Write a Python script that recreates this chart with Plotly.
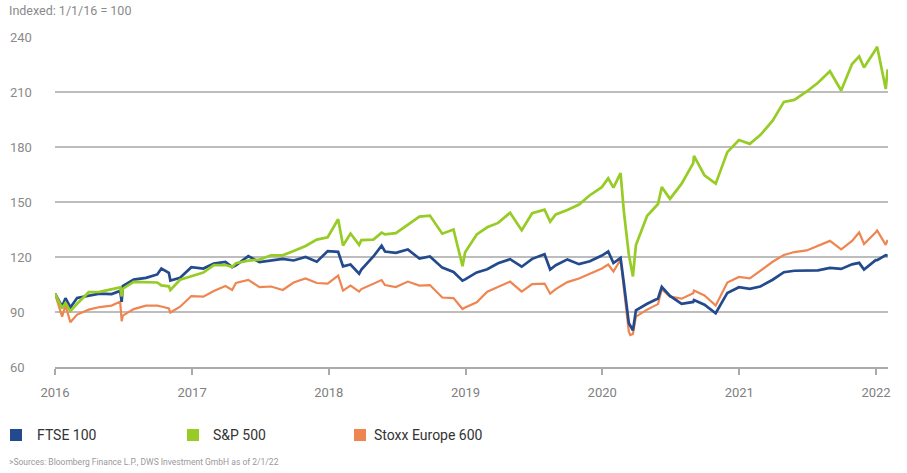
import plotly.graph_objects as go

dates = [
    "2016-01-01", "2016-01-20", "2016-01-29", "2016-02-11", "2016-02-29", "2016-03-31", "2016-04-29",
    "2016-05-31", "2016-06-23", "2016-06-27", "2016-06-30", "2016-07-29", "2016-08-31", "2016-09-30",
    "2016-10-11", "2016-10-31", "2016-11-04", "2016-11-30", "2016-12-30",
    "2017-01-31", "2017-02-28", "2017-03-31", "2017-04-18", "2017-04-28", "2017-05-31", "2017-06-30",
    "2017-07-31", "2017-08-31", "2017-09-29", "2017-10-31", "2017-11-30", "2017-12-29",
    "2018-01-26", "2018-02-08", "2018-02-28", "2018-03-23", "2018-03-29", "2018-04-30", "2018-05-22",
    "2018-05-31", "2018-06-29", "2018-07-31", "2018-08-31", "2018-09-28", "2018-10-31", "2018-11-30",
    "2018-12-24", "2018-12-31",
    "2019-01-31", "2019-02-28", "2019-03-29", "2019-04-30", "2019-05-31", "2019-06-28", "2019-07-31",
    "2019-08-15", "2019-08-30", "2019-09-30", "2019-10-31", "2019-11-29", "2019-12-31",
    "2020-01-17", "2020-01-31", "2020-02-19", "2020-02-28", "2020-03-12", "2020-03-16", "2020-03-23",
    "2020-03-31", "2020-04-30", "2020-05-29", "2020-06-08", "2020-06-30", "2020-07-31", "2020-08-31",
    "2020-09-02", "2020-09-30", "2020-10-30", "2020-11-30", "2020-12-31",
    "2021-01-29", "2021-02-26", "2021-03-31", "2021-04-30", "2021-05-28", "2021-06-30", "2021-07-30",
    "2021-08-31", "2021-09-30", "2021-10-29", "2021-11-17", "2021-11-30", "2021-12-31",
    "2022-01-04", "2022-01-27", "2022-02-01",
]

sp500 = [
    100, 92, 94.9, 90.5, 94.5, 100.8, 101, 102.6, 103.4, 98.5, 102.7, 106.4, 106.2, 106.1, 104.5, 104, 102, 107.6, 109.5,
    111.5, 115.6, 115.6, 114.6, 116.6, 118, 118.6, 120.9, 120.9, 123.3, 126, 129.5, 130.8,
    140.6, 126.3, 132.8, 126.6, 129.2, 129.5, 133.3, 132.3, 133, 137.8, 142, 142.6, 132.7, 135, 115, 122.6,
    132.3, 136.2, 138.6, 144.1, 134.6, 143.9, 145.8, 139.3, 143.2, 145.6, 148.6, 153.7, 158.1,
    162.9, 157.8, 165.7, 144.5, 121.4, 116.7, 109.4, 126.5, 142.5, 148.9, 158.1, 151.7, 160, 171.2, 175.2, 164.5, 160, 177.2, 183.8,
    181.7, 186.5, 194.4, 204.6, 205.7, 210.3, 215, 221.3, 210.8, 225.3, 229.4, 223.4, 233.2,
    234.7, 211.7, 222.4,
]

ftse100 = [
    100, 93, 97.5, 92.5, 97.7, 98.9, 100, 99.8, 101.5, 95.5, 104.2, 107.7, 108.6, 110.5, 113.7, 111.4, 107.2, 108.7, 114.4,
    113.7, 116.4, 117.3, 114.5, 115.4, 120.5, 117.2, 118.1, 119, 118.1, 120, 117.4, 123.2,
    122.8, 114.9, 115.9, 110.9, 113.1, 120.3, 126.2, 123, 122.3, 124.1, 119.1, 120.3, 114.2, 111.8, 107.1, 107.8,
    111.6, 113.3, 116.6, 118.8, 114.7, 119, 121.5, 113.2, 115.5, 118.7, 116.1, 117.7, 120.8,
    123, 116.7, 119.5, 105.4, 83.9, 82.5, 80, 90.9, 94.5, 97.4, 103.7, 98.8, 94.5, 95.5, 96.5, 94, 89.3, 100.4, 103.5,
    102.6, 103.9, 107.6, 111.7, 112.5, 112.7, 112.7, 114.1, 113.5, 116, 116.8, 113.1, 118.3,
    118.3, 121, 120.7,
]

stoxx600 = [
    100, 87.5, 93.6, 84.4, 88.6, 91.3, 92.7, 93.5, 95.7, 85, 88, 91.6, 93.5, 93.5, 93, 91.9, 89.7, 92.9, 98.7,
    98.4, 101.4, 104.2, 102, 105.8, 107.5, 103.6, 103.9, 102, 106.1, 108.3, 105.8, 105.5,
    109.9, 101.7, 104.4, 101.1, 102.5, 105.2, 107.4, 104.7, 103.6, 106.6, 104.4, 104.7, 97.9, 97.6, 91.6, 92.4,
    95.3, 101.1, 103.6, 106.6, 101.1, 105.2, 105.5, 100, 102.5, 106.3, 108.3, 111, 113.7,
    115.9, 112.1, 118.6, 102.8, 79.3, 77.4, 78, 87.5, 91.3, 94.3, 102.5, 98.4, 97.3, 100.3, 101.7, 99, 93.5, 106.1, 109.1,
    108.3, 112.4, 117.4, 121.1, 122.7, 123.6, 126.3, 128.8, 124.1, 128.8, 133.4, 127.1, 133.4,
    134.5, 126.6, 129.3,
]

year_ticks = ["2016-01-01", "2017-01-01", "2018-01-01", "2019-01-01", "2020-01-01", "2021-01-01", "2022-01-01"]
year_labels = ["2016", "2017", "2018", "2019", "2020", "2021", "2022"]
y_ticks = [60, 90, 120, 150, 180, 210, 240]

series_names = ["FTSE 100", "S&P 500", "Stoxx Europe 600"]
colors = {"FTSE 100": "#234a8c", "S&P 500": "#97cb26", "Stoxx Europe 600": "#ef8550"}

FONT = "Roboto, 'Open Sans', Arial, sans-serif"

W, H = 907, 473
ML, MR, MT, MB = 55, 19, 37, 106
PW = W - ML - MR
PH = H - MT - MB


def px_to_paper_x(px):
    return (px - ML) / PW


def px_to_paper_y(py):
    return (H - MB - py) / PH


fig = go.Figure()

fig.add_trace(go.Scatter(x=dates, y=stoxx600, mode="lines", name="Stoxx Europe 600",
                         line=dict(color=colors["Stoxx Europe 600"], width=2.2), showlegend=False))
fig.add_trace(go.Scatter(x=dates, y=ftse100, mode="lines", name="FTSE 100",
                         line=dict(color=colors["FTSE 100"], width=2.7), showlegend=False))
fig.add_trace(go.Scatter(x=dates, y=sp500, mode="lines", name="S&P 500",
                         line=dict(color=colors["S&P 500"], width=2.7), showlegend=False))

annotations = []
shapes = []

# custom legend: square swatch + label
swatch_left_px = [10, 187, 354]
label_left_px = [35, 211, 372]
for name, sx, lx in zip(series_names, swatch_left_px, label_left_px):
    shapes.append(dict(type="rect", xref="paper", yref="paper",
                       x0=px_to_paper_x(sx), x1=px_to_paper_x(sx + 12),
                       y0=px_to_paper_y(441), y1=px_to_paper_y(429),
                       fillcolor=colors[name], line=dict(width=0)))
    annotations.append(dict(xref="paper", yref="paper", x=px_to_paper_x(lx), y=px_to_paper_y(435),
                            text=name, xanchor="left", yanchor="middle", showarrow=False,
                            font=dict(family=FONT, size=14, color="#333333")))

for v in y_ticks:
    annotations.append(dict(xref="paper", yref="y", x=px_to_paper_x(8), y=v, text=str(v),
                            xanchor="left", yanchor="middle", showarrow=False,
                            font=dict(family=FONT, size=13, color="#8a8a8a")))
annotations.append(dict(xref="paper", yref="paper", x=px_to_paper_x(7), y=px_to_paper_y(11),
                        text="Indexed: 1/1/16 = 100", xanchor="left", yanchor="middle", showarrow=False,
                        font=dict(family=FONT, size=12.5, color="#8a8a8a")))
annotations.append(dict(xref="paper", yref="paper", x=px_to_paper_x(7), y=px_to_paper_y(462),
                        text="&gt;Sources: Bloomberg Finance L.P., DWS Investment GmbH as of 2/1/22",
                        xanchor="left", yanchor="middle", showarrow=False,
                        font=dict(family=FONT, size=8.5, color="#999999")))

fig.update_layout(
    width=W, height=H, autosize=False,
    margin=dict(l=ML, r=MR, t=MT, b=MB, autoexpand=False),
    paper_bgcolor="white", plot_bgcolor="white",
    font=dict(family=FONT),
    showlegend=False,
    xaxis=dict(type="date", range=["2016-01-01", "2022-02-02"], tickvals=year_ticks, ticktext=year_labels,
               showgrid=False, zeroline=False, showline=True, linecolor="#aaaaaa", linewidth=1.5,
               ticks="outside", ticklen=6, tickwidth=1.5, tickcolor="#aaaaaa", ticklabelstandoff=7,
               tickfont=dict(family=FONT, size=13, color="#808080")),
    yaxis=dict(range=[60, 240], tickvals=y_ticks, showticklabels=False, showgrid=True,
               gridcolor="#bdbdbd", gridwidth=1.5, zeroline=False, showline=False),
    annotations=annotations,
    shapes=shapes,
)

fig.write_html("out.html", config={"displayModeBar": False},
               post_script="document.body.style.margin='0px';document.body.style.overflow='hidden';")
